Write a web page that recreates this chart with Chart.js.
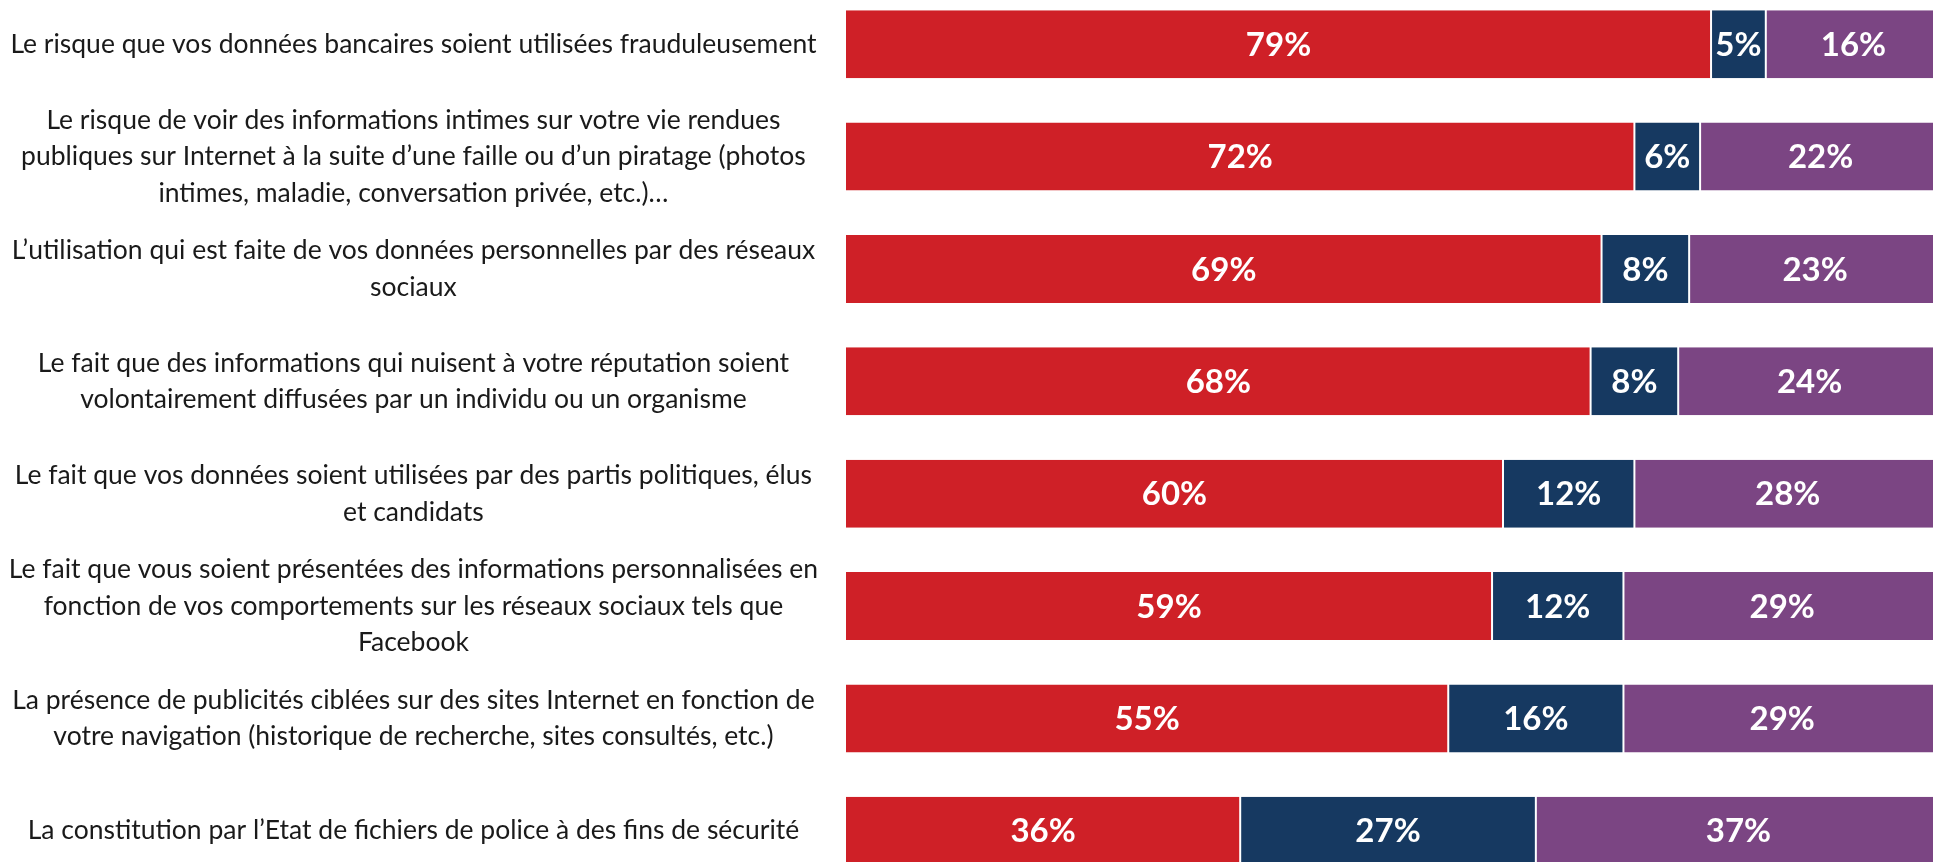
<!DOCTYPE html>
<html>
<head>
<meta charset="utf-8">
<script src="https://cdn.jsdelivr.net/npm/chart.js@4.4.1/dist/chart.umd.min.js"></script>
<style>
  html, body { margin: 0; padding: 0; background: #ffffff; overflow: hidden; width: 1933px; height: 862px; }
  #wrap { position: absolute; left: 0; top: -12px; width: 1941px; height: 899px; }
</style>
</head>
<body>
<div id="wrap"><canvas id="c"></canvas></div>
<script>
const categories = [
  ["Le risque que vos données bancaires soient utilisées frauduleusement"],
  ["Le risque de voir des informations intimes sur votre vie rendues", "publiques sur Internet à la suite d’une faille ou d’un piratage (photos", "intimes, maladie, conversation privée, etc.)…"],
  ["L’utilisation qui est faite de vos données personnelles par des réseaux", "sociaux"],
  ["Le fait que des informations qui nuisent à votre réputation soient", "volontairement diffusées par un individu ou un organisme"],
  ["Le fait que vos données soient utilisées par des partis politiques, élus", "et candidats"],
  ["Le fait que vous soient présentées des informations personnalisées en", "fonction de vos comportements sur les réseaux sociaux tels que", "Facebook"],
  ["La présence de publicités ciblées sur des sites Internet en fonction de", "votre navigation (historique de recherche, sites consultés, etc.)"],
  ["La constitution par l’Etat de fichiers de police à des fins de sécurité"]
];
const seriesRed = [79, 72, 69, 68, 60, 59, 55, 36];
const seriesNavy = [5, 6, 8, 8, 12, 12, 16, 27];
const seriesPurple = [16, 22, 23, 24, 28, 29, 29, 37];

const FONT = "Lato, 'Open Sans', sans-serif";

const valueLabels = {
  id: 'valueLabels',
  afterDatasetsDraw(chart) {
    const ctx = chart.ctx;
    ctx.save();
    ctx.fillStyle = '#ffffff';
    ctx.font = "bold 33px " + FONT;
    ctx.textAlign = 'center';
    ctx.textBaseline = 'middle';
    chart.data.datasets.forEach((ds, di) => {
      const meta = chart.getDatasetMeta(di);
      meta.data.forEach((el, i) => {
        const p = el.getCenterPoint();
        ctx.fillText(ds.data[i] + '%', p.x, p.y + 1);
      });
    });
    ctx.restore();
  }
};

new Chart(document.getElementById('c'), {
  type: 'bar',
  data: {
    labels: categories,
    datasets: [
      { data: seriesRed, backgroundColor: '#cf2027', borderColor: '#ffffff', borderWidth: {left: 0, right: 1, top: 0, bottom: 0}, borderSkipped: false },
      { data: seriesNavy, backgroundColor: '#163961', borderColor: '#ffffff', borderWidth: {left: 1, right: 1, top: 0, bottom: 0}, borderSkipped: false },
      { data: seriesPurple, backgroundColor: '#7b4583', borderColor: '#ffffff', borderWidth: {left: 1, right: 0, top: 0, bottom: 0}, borderSkipped: false }
    ]
  },
  options: {
    indexAxis: 'y',
    responsive: true,
    maintainAspectRatio: false,
    animation: false,
    layout: { padding: 0 },
    datasets: { bar: { categoryPercentage: 1.0, barPercentage: 0.605 } },
    plugins: { legend: { display: false }, tooltip: { enabled: false } },
    scales: {
      x: { stacked: true, min: 0, max: 100, display: false },
      y: {
        stacked: true,
        grid: { display: false, drawTicks: false },
        border: { display: false },
        ticks: {
          autoSkip: false,
          crossAlign: 'center',
          padding: 28,
          color: '#1a1a1a',
          font: { family: FONT, size: 26.5, lineHeight: 1.38 }
        },
        afterFit(scale) {
          scale.width = 846;
          scale.paddingTop = 0;
          scale.paddingBottom = 0;
        }
      }
    }
  },
  plugins: [valueLabels]
});
</script>
</body>
</html>
